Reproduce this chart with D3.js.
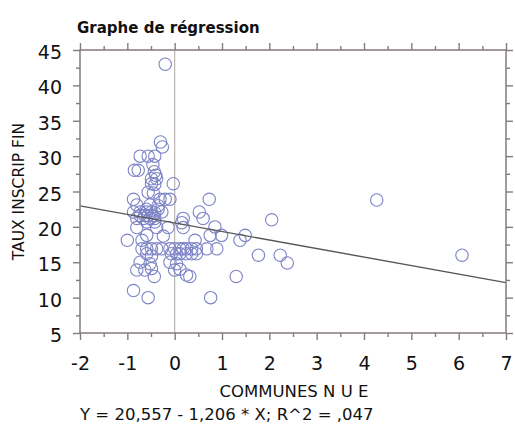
<!DOCTYPE html>
<html>
<head>
<meta charset="utf-8">
<script src="https://cdn.jsdelivr.net/npm/d3@7"></script>
<style>
  body { margin: 0; background: #fff; }
  svg { display: block; }
</style>
</head>
<body>
<div id="chart"></div>
<script>
// data
var xValues = [-0.2, -0.3, -0.26, -0.73, -0.56, -0.42, -0.46, -0.85, -0.77, -0.43,
  -0.4, -0.49, -0.38, -0.49, -0.42, -0.03, -0.56, -0.45, -0.87, -0.31,
  -0.2, -0.1, 0.73, -0.8, -0.52, -0.35, -0.87, -0.73, -0.59, -0.49,
  -0.42, -0.27, 0.52, -0.73, -0.63, -0.56, -0.45, -0.8, -0.66, -0.52,
  -0.42, 0.18, 0.6, 2.05, -0.59, -0.42, 0.15, -0.8, -0.38, -0.14,
  0.18, 0.85, -0.24, -0.59, 0.75, 0.99, 1.49, -1.0, -0.69, 0.43,
  1.38, -0.59, -0.49, -0.38, -0.27, -0.1, 0.0, 0.11, 0.18, 0.68,
  0.89, 0.25, 0.36, 0.46, -0.59, -0.49, -0.07, 0.04, 0.11, 1.77,
  2.23, 6.07, -0.73, -0.52, -0.1, 0.04, 2.38, -0.8, -0.63, -0.49,
  0.0, 0.11, 0.25, 0.32, -0.43, 1.3, -0.87, -0.56, 0.76, 4.27,
  -0.35, -0.6, -0.69, 0.25, 0.36, 0.46];
var yValues = [43, 32, 31.3, 30, 30, 30, 28.8, 28, 28, 27.8,
  27.3, 26.8, 26.8, 26.1, 26.0, 26.1, 24.9, 24.8, 23.9, 23.9,
  23.9, 23.9, 23.9, 23.1, 23.1, 23.0, 22.1, 22.1, 22.1, 22.1,
  22.0, 22.1, 22.1, 21.6, 21.6, 21.6, 21.6, 21.2, 21.2, 21.2,
  21.2, 21.2, 21.2, 21.0, 20.7, 20.7, 20.6, 19.9, 19.9, 19.9,
  19.9, 20.0, 18.7, 18.8, 18.8, 18.8, 18.8, 18.1, 18.1, 18.1,
  18.1, 16.9, 16.9, 16.9, 16.9, 16.9, 16.9, 16.9, 16.9, 16.9,
  16.9, 16.2, 16.2, 16.2, 16.2, 15.9, 16.2, 16.2, 16.2, 16.0,
  16.0, 16.0, 15.0, 14.8, 15.0, 14.8, 14.9, 13.9, 13.9, 14.1,
  13.9, 14.0, 13.2, 13.0, 13.0, 13.0, 11.0, 10.0, 10.0, 23.8,
  22.5, 22.5, 16.9, 16.9, 16.9, 16.9];

var intercept = 20.557;
var slope = -1.206;
var xTicks = [-2, -1, 0, 1, 2, 3, 4, 5, 6, 7];
var yTicks = [5, 10, 15, 20, 25, 30, 35, 40, 45];
var xMinor = d3.range(-1.5, 7, 1);
var yMinor = d3.range(7.5, 45, 5);

var svgWidth = 515;
var svgHeight = 426;
var margin = { top: 50, right: 9, bottom: 93, left: 80 };
var width = svgWidth - margin.left - margin.right;
var height = svgHeight - margin.top - margin.bottom;

var axisColor = "#857b7b";
var font = "DejaVu Sans, sans-serif";

var svg = d3.select("#chart").append("svg")
  .attr("width", svgWidth)
  .attr("height", svgHeight);

var chartGroup = svg.append("g")
  .attr("transform", `translate(${margin.left}, ${margin.top})`);

var xScale = d3.scaleLinear().domain([-2, 7]).range([0, width]);
var yScale = d3.scaleLinear().domain([5, 45]).range([height, 0]);

// zero line
chartGroup.append("line")
  .attr("x1", xScale(0)).attr("x2", xScale(0))
  .attr("y1", 0).attr("y2", height)
  .attr("stroke", "#bdb3b3")
  .attr("stroke-width", 1.2);

// points
chartGroup.append("g")
  .selectAll("circle")
  .data(xValues.map((x, i) => ({ x: x, y: yValues[i] })))
  .enter()
  .append("circle")
  .attr("cx", d => xScale(d.x))
  .attr("cy", d => yScale(d.y))
  .attr("r", 6.2)
  .attr("fill", "none")
  .attr("stroke", "#7d84c6")
  .attr("stroke-width", 1.1);

// regression line
chartGroup.append("line")
  .attr("x1", xScale(-2)).attr("y1", yScale(intercept + slope * -2))
  .attr("x2", xScale(7)).attr("y2", yScale(intercept + slope * 7))
  .attr("stroke", "#5b5656")
  .attr("stroke-width", 1.4);

// axes, major and minor ticks on all four sides
function styleAxis(g) {
  g.select(".domain").remove();
  g.selectAll("line").attr("stroke", axisColor).attr("stroke-width", 1.4);
  g.selectAll("text").attr("fill", "#111").style("font-family", font).style("font-size", "19px");
}
var fmt = d => d < 0 ? "-" + Math.abs(d) : String(d);

chartGroup.append("g")
  .attr("transform", `translate(0, ${height})`)
  .call(d3.axisBottom(xScale).tickValues(xTicks).tickSize(7).tickPadding(17).tickFormat(fmt))
  .call(styleAxis);
chartGroup.append("g")
  .attr("transform", `translate(0, ${height})`)
  .call(d3.axisBottom(xScale).tickValues(xMinor).tickSize(4).tickFormat(""))
  .call(styleAxis);
chartGroup.append("g")
  .call(d3.axisTop(xScale).tickValues(xTicks).tickSize(7).tickFormat(""))
  .call(styleAxis);
chartGroup.append("g")
  .call(d3.axisTop(xScale).tickValues(xMinor).tickSize(4).tickFormat(""))
  .call(styleAxis);

chartGroup.append("g")
  .call(d3.axisLeft(yScale).tickValues(yTicks).tickSize(7).tickPadding(11))
  .call(styleAxis)
  .selectAll("text").attr("dy", "0.45em");
chartGroup.append("g")
  .call(d3.axisLeft(yScale).tickValues(yMinor).tickSize(4).tickFormat(""))
  .call(styleAxis);
chartGroup.append("g")
  .attr("transform", `translate(${width}, 0)`)
  .call(d3.axisRight(yScale).tickValues(yTicks).tickSize(7).tickFormat(""))
  .call(styleAxis);
chartGroup.append("g")
  .attr("transform", `translate(${width}, 0)`)
  .call(d3.axisRight(yScale).tickValues(yMinor).tickSize(4).tickFormat(""))
  .call(styleAxis);

// frame
chartGroup.append("rect")
  .attr("width", width).attr("height", height)
  .attr("fill", "none")
  .attr("stroke", axisColor)
  .attr("stroke-width", 1.5);

// titles
svg.append("text")
  .attr("x", 77).attr("y", 33)
  .style("font-family", font).style("font-size", "15px").style("font-weight", "bold")
  .attr("fill", "#111")
  .text("Graphe de régression");

svg.append("text")
  .attr("transform", `translate(24, ${margin.top + height / 2}) rotate(-90)`)
  .attr("text-anchor", "middle")
  .style("font-family", font).style("font-size", "15.5px")
  .attr("fill", "#111")
  .text("TAUX INSCRIP FIN");

svg.append("text")
  .attr("x", 294).attr("y", 397)
  .attr("text-anchor", "middle")
  .style("font-family", font).style("font-size", "16.5px")
  .attr("fill", "#111")
  .text("COMMUNES N U E");

svg.append("text")
  .attr("x", 80).attr("y", 420)
  .style("font-family", font).style("font-size", "16.5px")
  .attr("fill", "#111")
  .text("Y = 20,557 - 1,206 * X; R^2 = ,047");
</script>
</body>
</html>
